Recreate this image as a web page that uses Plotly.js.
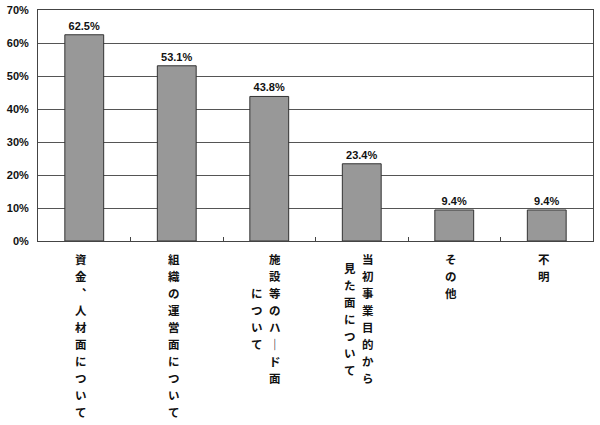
<!DOCTYPE html>
<html>
<head>
<meta charset="utf-8">
<script src="https://cdn.plot.ly/plotly-3.0.1.min.js"></script>
<style>html,body{margin:0;padding:0;background:#fff}#chart{width:600px;height:425px}</style>
</head>
<body>
<div id="chart"></div>
<script>
// Categories (as written), and their vertical columns (right-to-left reading order)
const categories = [
  "資金、人材面について",
  "組織の運営面について",
  "施設等のハード面について",
  "当初事業目的から見た面について",
  "その他",
  "不明"
];
const labelColumns = [
  ["資金︑人材面について"],
  ["組織の運営面について"],
  ["施設等のハ｜ド面", "について"],
  ["当初事業目的から", "見た面について"],
  ["その他"],
  ["不明"]
];
const values = [62.5, 53.1, 43.8, 23.4, 9.4, 9.4];
const yTicks = [0, 10, 20, 30, 40, 50, 60, 70];

const rowH = 17;      // vertical step between stacked characters (px)
const colGap = 18;    // horizontal distance between vertical columns (px)
const firstRow = 18;  // distance from axis to the first character centre (px)

const annotations = [];
labelColumns.forEach((cols, i) => {
  const maxLen = Math.max(...cols.map(c => [...c].length));
  const n = cols.length;
  cols.forEach((col, j) => {
    const chars = [...col];
    const offset = (maxLen - chars.length) / 2;
    chars.forEach((ch, k) => {
      annotations.push({
        xref: 'x', yref: 'paper',
        x: categories[i], y: 0,
        xanchor: 'center', yanchor: 'middle',
        xshift: -3 + ((n - 1) / 2 - j) * colGap,
        yshift: -(firstRow + (offset + k) * rowH),
        text: ch,
        showarrow: false,
        borderpad: 0,
        font: {family: '"Noto Sans CJK JP", sans-serif', size: 11.5, color: '#111', weight: 'bold'}
      });
    });
  });
});

const trace = {
  type: 'bar',
  x: categories,
  y: values,
  marker: {color: '#989898', line: {color: '#333', width: 1}},
  width: 0.42,
  texttemplate: '%{y:.1f}%',
  textposition: 'outside',
  cliponaxis: false,
  textfont: {family: '"Liberation Sans", Arial, sans-serif', size: 11, color: '#111', weight: 'bold'},
  hoverinfo: 'none'
};

const layout = {
  width: 600, height: 425,
  margin: {l: 38, r: 7, t: 10, b: 184},
  paper_bgcolor: '#fff', plot_bgcolor: '#fff',
  showlegend: false,
  xaxis: {
    type: 'category',
    showticklabels: false,
    ticks: 'inside', ticklen: 4, tickcolor: '#444',
    tickson: 'boundaries',
    showline: true, linecolor: '#444', linewidth: 1, mirror: true,
    showgrid: false, zeroline: false
  },
  yaxis: {
    range: [0, 70],
    tickvals: yTicks,
    ticktext: yTicks.map(v => v + '%'),
    showline: true, linecolor: '#444', linewidth: 1, mirror: true,
    showgrid: true, gridcolor: '#555', gridwidth: 1,
    zeroline: false,
    ticks: '', ticklabelstandoff: 6,
    tickfont: {family: '"Liberation Sans", Arial, sans-serif', size: 11, color: '#111', weight: 'bold'}
  },
  annotations: annotations
};

Plotly.newPlot('chart', [trace], layout, {staticPlot: true, displayModeBar: false});
</script>
</body>
</html>
